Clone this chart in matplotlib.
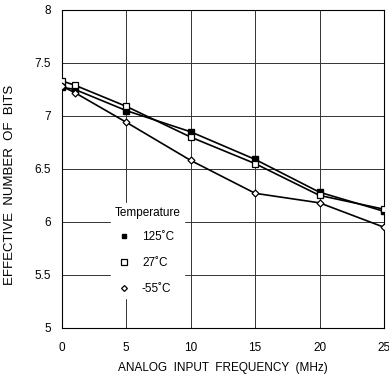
#!/usr/bin/env python3
import matplotlib
matplotlib.use('Agg')
import matplotlib.pyplot as plt

# Effective number of bits vs analog input frequency
freq = [0, 1, 5, 10, 15, 20, 25]
enob_125 = [7.27, 7.25, 7.05, 6.85, 6.59, 6.28, 6.10]
enob_27 = [7.33, 7.29, 7.09, 6.80, 6.55, 6.25, 6.12]
enob_m55 = [7.28, 7.22, 6.94, 6.58, 6.27, 6.18, 5.95]
labels = ['125˚C', '27˚C', '-55˚C']

plt.rcParams['font.family'] = ['Liberation Sans', 'DejaVu Sans']

fig = plt.figure(figsize=(3.89, 3.80), dpi=100)
ax = fig.add_axes([0.159, 0.137, 0.828, 0.837])

ax.plot(freq, enob_125, color='black', lw=1.2, marker='s', ms=4,
        mfc='black', mec='black', label=labels[0], zorder=3)
ax.plot(freq, enob_27, color='black', lw=1.2, marker='s', ms=4.5,
        mfc='white', mec='black', mew=0.9, label=labels[1], zorder=3)
ax.plot(freq, enob_m55, color='black', lw=1.2, marker='D', ms=3.5,
        mfc='white', mec='black', mew=0.9, label=labels[2], zorder=3)

ax.set_xlim(0, 25)
ax.set_ylim(5, 8)
ax.set_xticks([0, 5, 10, 15, 20, 25])
ax.set_yticks([5, 5.5, 6, 6.5, 7, 7.5, 8])
ax.set_yticklabels(['5', '5.5', '6', '6.5', '7', '7.5', '8'])
ax.tick_params(length=0, labelsize=8.5, pad=8)
ax.tick_params(axis='x', pad=10)
ax.grid(True, color='#333333', lw=0.7)
for s in ax.spines.values():
    s.set_linewidth(0.8)

ax.set_xlabel('ANALOG  INPUT  FREQUENCY  (MHz)', fontsize=8.5, labelpad=6)
ax.set_ylabel('EFFECTIVE  NUMBER  OF  BITS', fontsize=9.5)
ax.yaxis.set_label_coords(-0.142, 0.45)

leg = ax.legend(title='Temperature', loc='upper left',
                bbox_to_anchor=(0.134, 0.41), frameon=True, fontsize=8.5,
                title_fontsize=8.5, handlelength=0.6, handletextpad=1.2,
                labelspacing=1.15, borderpad=0.3, markerscale=0.85)
leg.get_frame().set_edgecolor('white')
leg.get_frame().set_facecolor('white')
leg.get_frame().set_alpha(1)
leg._legend_box.sep = 9
for line in leg.get_lines():
    line.set_linestyle('none')

fig.savefig('out.png', dpi=100)
